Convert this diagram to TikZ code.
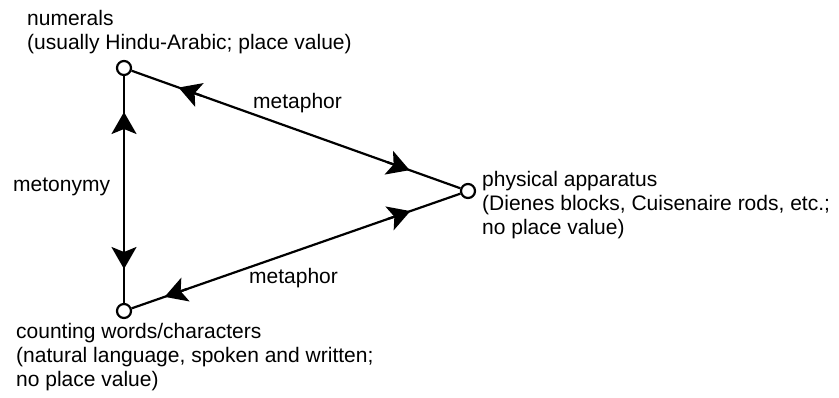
\documentclass[tikz,border=0pt]{standalone}
\usepackage{fontspec}
\setmainfont{Liberation Sans}
\usetikzlibrary{arrows.meta,calc}
\begin{document}
\begin{tikzpicture}[x=1pt,y=-1pt,
  vertex/.style={circle,draw,fill=white,line width=2.2pt,minimum size=14pt,inner sep=0pt},
  edge/.style={line width=2.2pt},
  tip/.style={line width=2.2pt,-{Stealth[length=22pt,width=25pt,inset=5pt]}},
  lbl/.style={font=\fontsize{21}{24}\selectfont,inner sep=0pt,align=left,anchor=base west}]
\useasboundingbox (0,0) rectangle (839,397);
\node[vertex] (num) at (124,68) {};
\node[vertex] (phy) at (468,191) {};
\node[vertex] (cnt) at (124,311) {};
\draw[edge] (num) -- (phy);
\draw[edge] (num) -- (cnt);
\draw[edge] (cnt) -- (phy);
\draw[tip] ($(num)!82pt!(phy)$) -- ($(num)!58pt!(phy)$);
\draw[tip] ($(phy)!86pt!(num)$) -- ($(phy)!62pt!(num)$);
\draw[tip] ($(num)!68pt!(cnt)$) -- ($(num)!44pt!(cnt)$);
\draw[tip] ($(cnt)!66pt!(num)$) -- ($(cnt)!42pt!(num)$);
\draw[tip] ($(cnt)!67pt!(phy)$) -- ($(cnt)!43pt!(phy)$);
\draw[tip] ($(phy)!85pt!(cnt)$) -- ($(phy)!61pt!(cnt)$);
\node[lbl] (numlbl) at (27,49) {numerals\\(usually Hindu-Arabic; place value)};
\node[lbl] (phylbl) at (482,234) {physical apparatus\\(Dienes blocks, Cuisenaire rods, etc.;\\no place value)};
\node[lbl] (cntlbl) at (16,386) {counting words/characters\\(natural language, spoken and written;\\no place value)};
\node[lbl] (mety) at (13,191) {metonymy};
\node[lbl] (met1) at (253,108) {metaphor};
\node[lbl] (met2) at (249,283) {metaphor};
\end{tikzpicture}
\end{document}
